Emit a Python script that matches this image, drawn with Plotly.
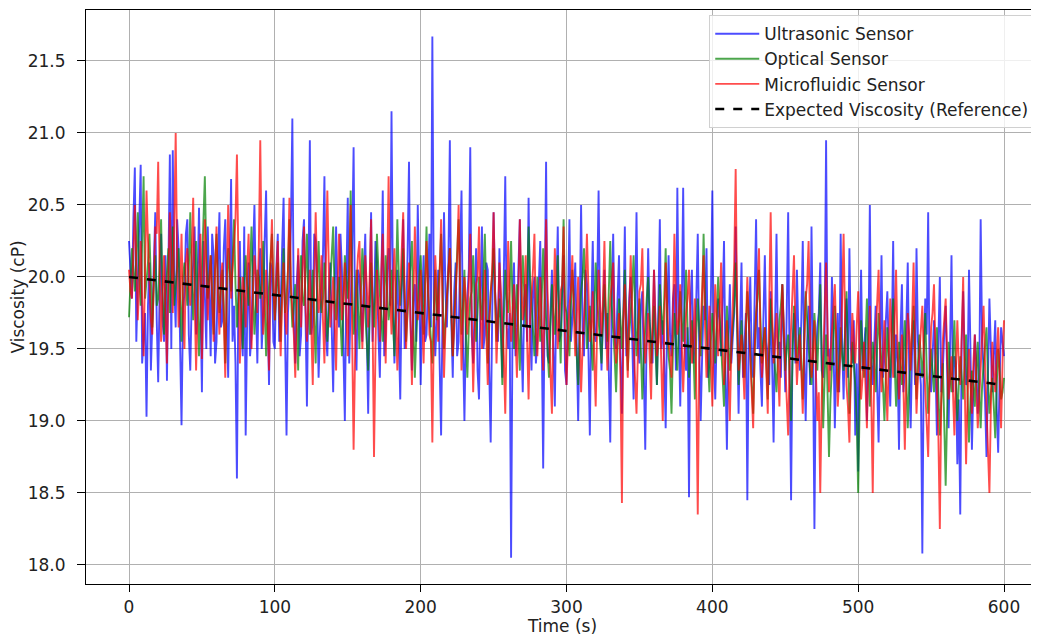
import numpy as np
import plotly.graph_objects as go

# Viscosity readings (cP), one every second from 0 to 600 s
ultrasonic = [
    20.25, 20.05, 19.85, 20.40, 20.76, 19.55, 19.95, 20.30, 20.78, 19.40,
    19.60, 19.75, 19.03, 19.80, 20.10, 19.35, 19.70, 20.15, 20.45, 19.70,
    19.27, 19.90, 20.30, 19.70, 19.55, 20.15, 19.28, 20.05, 20.85, 19.50,
    20.88, 19.95, 19.65, 20.40, 20.20, 19.55, 18.97, 19.75, 19.90, 20.30,
    20.40, 19.60, 19.35, 19.85, 20.05, 20.35, 19.60, 19.95, 20.48, 19.70,
    19.20, 20.25, 19.95, 19.50, 20.35, 19.80, 19.45, 20.30, 20.15, 19.40,
    19.55, 20.10, 20.45, 19.65, 19.70, 20.20, 20.40, 19.75, 19.30, 20.00,
    20.68, 19.55, 19.80, 19.40, 18.60, 19.90, 20.25, 19.65, 19.45, 20.35,
    18.90, 19.70, 20.10, 19.45, 19.60, 20.15, 20.50, 19.85, 19.40, 20.00,
    20.20, 19.50, 19.75, 20.25, 20.60, 19.80, 19.25, 20.10, 20.05, 19.55,
    19.50, 20.05, 20.30, 19.55, 19.80, 20.20, 20.55, 19.60, 18.90, 19.75,
    19.95, 20.35, 21.10, 19.70, 19.40, 19.95, 20.15, 19.45, 19.60, 20.25,
    20.40, 19.75, 19.10, 19.95, 20.95, 19.60, 19.70, 20.30, 20.25, 19.85,
    19.30, 19.65, 19.90, 20.15, 20.70, 19.60, 19.45, 19.90, 20.10, 19.55,
    19.20, 19.90, 20.35, 19.80, 19.65, 20.30, 20.05, 19.50, 19.00, 19.95,
    20.55, 19.40, 19.75, 20.20, 20.90, 19.65, 19.35, 20.05, 20.00, 19.70,
    19.55, 20.00, 20.30, 19.65, 19.05, 19.85, 20.45, 19.55, 19.80, 20.25,
    20.10, 19.60, 19.30, 19.95, 20.60, 19.45, 19.60, 20.05, 20.20, 19.80,
    21.15, 19.85, 19.40, 19.75, 20.05, 19.60, 19.15, 19.90, 20.40, 19.50,
    19.70, 20.15, 20.80, 19.70, 19.35, 19.85, 19.95, 19.55, 20.50, 19.95,
    19.25, 19.80, 20.15, 19.55, 19.60, 19.95, 20.30, 19.65, 21.67, 19.85,
    19.45, 19.70, 20.05, 19.40, 18.90, 19.75, 20.45, 19.90, 19.65, 20.10,
    20.95, 19.70, 19.30, 19.90, 20.10, 19.45, 19.55, 20.15, 20.60, 19.55,
    19.00, 19.65, 19.85, 20.05, 20.90, 19.60, 19.40, 19.85, 20.20, 19.35,
    19.15, 19.85, 20.35, 19.50, 19.60, 20.10, 20.05, 19.35, 18.85, 19.70,
    20.45, 19.90, 19.75, 19.55, 20.20, 19.80, 19.30, 20.00, 20.70, 19.65,
    19.50, 19.75, 18.05, 19.70, 20.10, 19.45, 19.65, 20.05, 20.40, 19.60,
    19.20, 19.85, 19.95, 19.55, 20.55, 19.70, 19.35, 19.90, 20.00, 19.40,
    19.55, 19.95, 20.25, 19.60, 18.67, 19.80, 20.80, 19.45, 19.40, 19.75,
    20.05, 19.50, 19.10, 19.85, 20.35, 19.55, 19.60, 19.90, 20.15, 19.35,
    19.25, 19.80, 20.40, 19.55, 19.70, 19.85, 20.10, 19.40, 19.00, 19.70,
    20.50, 19.65, 19.45, 20.05, 19.95, 19.50, 18.90, 19.75, 20.25, 19.60,
    19.55, 19.90, 20.60, 19.70, 19.35, 19.75, 20.05, 19.50, 19.75, 19.35,
    18.85, 19.80, 20.30, 19.60, 19.50, 19.85, 20.15, 19.45, 19.05, 19.70,
    20.35, 19.45, 19.60, 19.85, 20.00, 19.60, 19.15, 19.75, 20.45, 19.55,
    19.40, 19.80, 19.90, 19.35, 18.80, 19.65, 20.20, 19.70, 19.55, 19.40,
    20.05, 19.60, 19.25, 19.80, 20.40, 19.50, 19.70, 19.40, 18.95, 19.70,
    20.15, 19.60, 19.45, 19.85, 19.95, 19.35, 20.62, 19.65, 19.10, 19.75,
    20.62, 19.55, 19.35, 19.65, 18.47, 19.80, 20.05, 19.40, 19.55, 19.85,
    20.30, 19.50, 19.00, 19.45, 19.80, 19.70, 20.20, 19.30, 19.40, 19.85,
    20.60, 19.45, 19.15, 19.60, 19.85, 19.70, 19.45, 19.80, 20.25, 19.35,
    18.80, 19.55, 19.95, 19.40, 19.60, 19.75, 20.35, 19.50, 19.05, 19.65,
    20.10, 19.30, 19.50, 19.75, 18.45, 19.60, 20.00, 19.45, 19.30, 19.80,
    20.40, 19.50, 19.65, 19.35, 19.10, 19.70, 20.15, 19.55, 19.45, 19.25,
    19.90, 19.40, 18.85, 19.65, 20.30, 19.50, 19.55, 19.30, 19.95, 19.60,
    19.20, 19.75, 20.45, 19.35, 18.45, 19.55, 19.75, 19.40, 20.05, 19.60,
    19.35, 19.70, 20.25, 19.45, 19.00, 19.55, 19.80, 19.25, 20.35, 19.50,
    18.25, 19.40, 19.65, 19.75, 20.10, 19.35, 19.30, 19.60, 20.95, 19.45,
    19.50, 19.35, 20.00, 19.60, 18.95, 19.45, 19.75, 19.20, 20.30, 19.55,
    19.15, 19.65, 19.85, 19.30, 20.20, 19.50, 19.40, 19.70, 18.90, 19.40,
    18.65, 19.55, 20.05, 19.35, 19.50, 19.65, 19.00, 19.50, 20.50, 19.40,
    19.25, 19.60, 19.80, 19.25, 18.85, 19.45, 20.15, 19.30, 19.45, 19.70,
    19.90, 19.45, 19.10, 19.55, 20.25, 19.30, 19.60, 19.40, 18.80, 19.60,
    19.95, 19.20, 19.35, 19.65, 20.10, 19.35, 18.95, 19.50, 19.70, 19.25,
    20.20, 19.55, 19.40, 19.25, 18.08, 19.45, 19.85, 19.60, 20.45, 19.30,
    19.20, 19.50, 19.70, 19.40, 18.90, 19.55, 20.00, 19.20, 19.35, 19.60,
    19.80, 19.35, 18.95, 19.50, 20.15, 19.20, 19.45, 19.40, 18.70, 19.15,
    18.35, 19.55, 19.90, 19.45, 19.25, 19.30, 20.05, 19.50, 18.80, 19.25,
    19.60, 19.40, 19.05, 19.25, 20.40, 19.55, 19.30, 19.15, 18.75, 19.35,
    19.85, 19.50, 19.20, 19.45, 19.70, 19.10, 18.78, 19.30, 19.65, 19.55,
    19.45,
]

optical = [
    19.72, 19.95, 20.20, 20.05, 19.90, 20.15, 20.45, 20.00, 19.80, 20.25,
    20.70, 19.85, 19.95, 20.10, 20.30, 19.90, 19.65, 19.95, 20.15, 19.80,
    19.85, 20.10, 20.40, 19.90, 19.60, 19.85, 20.05, 20.20, 19.75, 20.05,
    20.35, 19.80, 19.95, 20.10, 20.20, 19.85, 19.55, 20.00, 20.10, 19.95,
    19.80, 20.05, 20.45, 20.00, 19.70, 19.95, 20.25, 19.85, 19.45, 19.75,
    20.05, 20.25, 20.70, 20.15, 19.85, 20.00, 20.15, 19.90, 19.60, 20.05,
    20.30, 19.95, 19.75, 19.90, 20.05, 19.80, 19.40, 19.85, 20.20, 20.05,
    19.90, 20.10, 20.40, 19.95, 19.65, 19.85, 20.00, 19.80, 19.50, 19.95,
    20.15, 19.95, 19.80, 20.05, 20.35, 19.90, 19.60, 19.80, 20.05, 20.00,
    19.85, 19.95, 20.25, 19.85, 19.45, 19.75, 19.95, 20.10, 20.30, 19.90,
    19.70, 19.90, 20.10, 19.80, 19.55, 19.95, 20.20, 19.75, 19.85, 20.05,
    20.40, 19.90, 19.65, 19.80, 19.95, 19.70, 19.35, 19.95, 20.15, 19.85,
    19.80, 20.00, 20.30, 19.85, 19.60, 19.80, 20.05, 19.70, 19.40, 19.95,
    20.25, 19.90, 19.75, 19.85, 20.10, 19.80, 19.55, 19.75, 19.95, 20.05,
    20.35, 19.85, 19.70, 19.90, 20.00, 19.70, 19.45, 19.80, 20.15, 20.00,
    19.85, 20.05, 20.60, 19.95, 19.60, 19.75, 20.05, 19.80, 19.50, 19.90,
    20.20, 19.95, 19.75, 19.55, 19.35, 19.75, 20.10, 19.85, 19.65, 19.90,
    20.30, 20.05, 19.90, 19.70, 19.55, 19.85, 20.15, 19.90, 19.70, 19.80,
    20.05, 19.70, 19.45, 19.90, 20.40, 20.00, 19.80, 19.95, 20.20, 19.85,
    19.55, 19.75, 19.95, 20.05, 20.25, 19.65, 19.30, 19.60, 19.85, 20.00,
    20.15, 19.85, 19.60, 19.95, 20.35, 19.90, 19.75, 19.60, 19.40, 19.75,
    20.05, 19.70, 19.85, 20.05, 20.30, 19.85, 19.50, 19.70, 19.90, 20.00,
    20.20, 19.75, 19.45, 19.70, 19.95, 20.10, 20.40, 19.95, 19.60, 19.80,
    20.05, 19.60, 19.30, 19.65, 19.85, 19.90, 20.15, 19.80, 19.55, 19.75,
    20.00, 19.80, 19.70, 20.00, 20.30, 19.85, 19.40, 19.65, 19.90, 20.00,
    20.20, 19.85, 19.55, 19.70, 19.85, 19.60, 19.25, 19.70, 20.05, 19.85,
    19.75, 19.90, 20.25, 19.80, 19.50, 19.75, 19.95, 19.60, 19.35, 19.80,
    20.15, 19.90, 19.65, 19.95, 20.35, 20.00, 19.80, 19.60, 19.45, 19.70,
    20.00, 19.75, 19.55, 19.85, 20.20, 19.90, 19.70, 19.55, 19.30, 19.65,
    19.95, 19.75, 19.60, 19.85, 20.15, 19.70, 19.40, 19.90, 20.40, 19.80,
    19.75, 19.60, 19.45, 19.80, 20.05, 19.85, 19.65, 19.45, 19.25, 19.60,
    19.90, 20.00, 20.20, 19.85, 19.50, 19.65, 19.80, 19.55, 19.35, 19.75,
    20.10, 19.85, 19.70, 19.55, 19.40, 19.70, 19.95, 19.75, 19.55, 19.90,
    20.25, 19.80, 19.65, 19.45, 19.20, 19.60, 19.85, 19.70, 19.50, 19.75,
    20.05, 19.70, 19.35, 19.60, 19.75, 19.90, 20.15, 19.75, 19.45, 19.65,
    19.85, 19.50, 19.15, 19.45, 19.70, 19.85, 20.00, 19.70, 19.40, 19.60,
    19.80, 19.50, 19.25, 19.65, 19.95, 19.75, 19.60, 19.85, 20.20, 19.70,
    19.45, 19.35, 19.05, 19.50, 19.75, 19.55, 19.35, 19.65, 19.90, 19.70,
    19.55, 19.80, 20.05, 19.65, 19.30, 19.45, 19.70, 19.50, 19.15, 19.60,
    19.85, 19.65, 19.45, 19.80, 20.30, 19.85, 19.60, 19.40, 19.20, 19.55,
    19.75, 19.60, 19.40, 19.70, 20.00, 19.75, 19.55, 19.35, 19.10, 19.50,
    19.80, 19.55, 19.35, 19.50, 19.65, 19.80, 20.10, 19.65, 19.25, 19.45,
    19.70, 19.45, 19.30, 19.60, 19.90, 19.70, 19.50, 19.30, 19.05, 19.45,
    19.75, 19.85, 20.05, 19.70, 19.40, 19.55, 19.65, 19.40, 19.15, 19.50,
    19.85, 19.65, 19.45, 19.35, 19.20, 19.50, 19.70, 19.80, 19.95, 19.60,
    19.35, 19.50, 19.60, 19.30, 19.00, 19.45, 19.80, 19.60, 19.40, 19.55,
    19.65, 19.40, 19.15, 19.55, 19.90, 19.70, 19.50, 19.35, 19.25, 19.50,
    19.75, 19.55, 19.35, 19.65, 19.95, 19.45, 18.95, 19.30, 19.60, 19.20,
    18.75, 19.15, 19.45, 19.60, 19.80, 19.50, 19.20, 19.40, 19.65, 19.45,
    19.35, 19.60, 19.90, 19.50, 19.05, 19.30, 19.55, 19.40, 19.25, 19.00,
    18.50, 19.10, 19.70, 19.50, 19.30, 19.55, 19.85, 19.45, 19.10, 19.35,
    19.55, 19.40, 19.20, 19.50, 19.75, 19.55, 19.40, 19.25, 19.00, 19.35,
    19.65, 19.45, 19.30, 19.55, 19.85, 19.40, 19.10, 19.35, 19.55, 19.40,
    19.25, 19.50, 19.70, 19.30, 18.95, 19.25, 19.45, 19.60, 19.80, 19.45,
    19.15, 19.40, 19.60, 19.45, 19.30, 19.50, 19.75, 19.35, 19.05, 19.30,
    19.50, 19.35, 19.20, 19.45, 19.65, 19.20, 18.90, 19.15, 19.40, 19.00,
    18.55, 19.05, 19.55, 19.35, 19.20, 19.45, 19.70, 19.30, 19.00, 19.25,
    19.45, 19.30, 19.15, 19.40, 19.60, 19.20, 18.85, 19.15, 19.35, 19.25,
    19.10, 19.35, 19.55, 19.20, 18.95, 19.25, 19.40, 19.50, 19.65, 19.30,
    19.05, 19.20, 19.30, 19.10, 18.88, 19.25, 19.50, 19.35, 19.15, 19.20,
    19.30,
]

microfluidic = [
    20.05, 19.90, 19.85, 20.20, 20.50, 20.10, 19.70, 19.95, 20.25, 19.85,
    19.45, 20.05, 20.60, 20.25, 19.90, 19.70, 19.60, 20.00, 20.35, 20.30,
    20.80, 20.05, 19.55, 19.90, 20.15, 19.75, 19.40, 20.00, 20.45, 20.15,
    19.75, 20.35, 21.00, 20.10, 19.65, 19.85, 20.30, 19.80, 19.50, 20.10,
    20.20, 19.95, 19.80, 20.15, 20.55, 19.85, 19.35, 19.75, 20.05, 20.30,
    19.43, 19.90, 20.40, 20.05, 19.70, 19.95, 20.15, 19.85, 19.55, 20.05,
    20.35, 19.85, 19.60, 20.00, 20.10, 19.70, 19.30, 19.95, 20.50, 20.10,
    19.85, 20.05, 20.25, 20.40, 20.85, 20.15, 19.40, 19.75, 20.00, 19.90,
    19.65, 20.05, 20.30, 19.85, 19.50, 19.90, 20.15, 20.00, 19.75, 20.20,
    20.95, 20.10, 19.60, 19.80, 20.05, 19.70, 19.35, 20.05, 20.40, 19.95,
    19.70, 20.00, 20.25, 19.80, 19.45, 19.85, 20.10, 19.75, 19.60, 20.05,
    20.55, 19.95, 19.80, 19.60, 19.30, 19.85, 20.20, 19.90, 19.65, 20.05,
    20.35, 19.80, 19.55, 19.85, 20.05, 19.65, 19.25, 19.95, 20.45, 20.00,
    19.75, 19.85, 20.15, 19.70, 19.40, 20.10, 20.60, 20.05, 19.65, 19.80,
    20.00, 19.70, 19.35, 19.90, 20.30, 20.05, 19.70, 19.85, 20.10, 19.75,
    19.45, 20.00, 20.50, 19.60, 18.80, 19.45, 19.95, 20.15, 20.25, 19.85,
    19.50, 19.85, 20.15, 19.95, 19.65, 20.00, 20.40, 19.70, 18.75, 19.50,
    20.05, 19.80, 19.55, 20.05, 20.30, 19.85, 19.40, 20.00, 20.70, 19.90,
    19.60, 19.95, 20.20, 19.75, 19.35, 19.65, 19.95, 20.15, 20.45, 19.90,
    19.50, 19.80, 20.10, 19.70, 19.25, 19.85, 20.35, 19.95, 19.70, 19.80,
    20.05, 19.75, 19.40, 19.85, 20.25, 19.95, 19.60, 19.55, 18.85, 19.60,
    20.15, 19.90, 19.55, 20.00, 20.40, 19.80, 19.30, 19.65, 19.90, 20.05,
    20.20, 19.80, 19.45, 19.65, 19.85, 20.10, 20.50, 19.90, 19.35, 19.70,
    20.00, 19.85, 19.60, 19.95, 20.30, 19.75, 19.20, 19.60, 19.95, 20.00,
    20.35, 19.75, 19.50, 19.80, 20.05, 19.60, 19.25, 19.70, 19.85, 20.05,
    20.45, 19.85, 19.40, 19.70, 20.10, 19.90, 19.65, 19.45, 19.05, 19.60,
    20.25, 19.85, 19.55, 19.75, 19.95, 19.60, 19.30, 19.90, 20.40, 19.95,
    19.70, 19.80, 20.15, 19.55, 19.15, 19.70, 19.85, 20.05, 20.30, 19.65,
    19.45, 19.80, 20.00, 19.65, 19.35, 19.85, 20.40, 19.90, 19.60, 19.40,
    19.05, 19.75, 20.20, 19.85, 19.50, 19.70, 19.90, 19.95, 20.35, 19.60,
    19.25, 19.55, 19.80, 19.90, 20.15, 19.75, 19.45, 19.70, 20.00, 19.60,
    19.20, 19.50, 19.70, 19.95, 20.30, 19.80, 19.55, 19.65, 19.90, 19.45,
    19.10, 19.65, 20.05, 19.80, 19.60, 19.85, 20.25, 19.70, 19.35, 19.55,
    19.85, 19.95, 20.10, 19.60, 19.40, 19.55, 19.75, 19.30, 18.43, 19.70,
    19.95, 19.60, 19.30, 19.75, 20.15, 19.80, 19.55, 19.35, 19.05, 19.50,
    19.90, 19.95, 20.20, 19.65, 19.40, 19.55, 19.75, 19.45, 19.15, 19.70,
    20.05, 19.70, 19.45, 19.55, 19.80, 19.40, 19.00, 19.65, 20.10, 19.80,
    19.55, 19.45, 19.30, 19.75, 20.30, 19.85, 19.60, 19.70, 19.95, 19.55,
    19.20, 19.50, 19.75, 19.85, 20.05, 19.70, 19.40, 19.60, 19.85, 19.25,
    18.35, 19.40, 19.65, 19.80, 20.15, 19.65, 19.30, 19.55, 19.80, 19.45,
    19.10, 19.60, 19.95, 19.70, 19.45, 19.75, 20.10, 19.55, 19.25, 19.45,
    19.70, 19.35, 19.00, 19.50, 19.85, 20.10, 20.75, 19.80, 19.35, 19.45,
    19.60, 19.40, 19.15, 19.65, 20.00, 19.70, 19.45, 19.20, 18.95, 19.50,
    19.80, 19.95, 20.20, 19.55, 19.30, 19.45, 19.65, 19.35, 19.05, 19.80,
    20.45, 19.75, 19.40, 19.55, 19.75, 19.40, 19.10, 19.60, 19.95, 19.65,
    19.35, 19.15, 18.90, 19.40, 19.70, 19.85, 20.15, 19.60, 19.25, 19.45,
    19.60, 19.35, 19.05, 19.50, 19.85, 19.95, 20.25, 19.65, 19.30, 19.45,
    19.70, 19.35, 19.00, 19.20, 18.50, 19.15, 19.55, 19.75, 20.10, 19.60,
    19.20, 19.45, 19.65, 19.80, 19.95, 19.55, 19.10, 19.30, 19.50, 19.85,
    20.30, 19.70, 19.25, 19.10, 18.85, 19.35, 19.75, 19.55, 19.40, 19.65,
    19.90, 19.45, 19.15, 19.30, 19.55, 19.25, 18.95, 19.40, 19.80, 19.15,
    18.50, 19.35, 19.60, 19.75, 20.05, 19.50, 19.20, 19.45, 19.70, 19.30,
    19.00, 19.45, 19.85, 19.55, 19.30, 19.70, 20.05, 19.50, 19.15, 19.40,
    19.60, 19.25, 18.80, 19.35, 19.75, 19.60, 19.35, 19.70, 20.10, 19.50,
    19.05, 19.30, 19.50, 19.65, 19.80, 19.45, 19.20, 19.05, 18.75, 19.25,
    19.65, 19.75, 19.95, 19.50, 19.10, 18.90, 18.25, 19.15, 19.55, 19.70,
    19.85, 19.45, 19.15, 19.30, 19.45, 19.20, 18.90, 19.35, 19.70, 19.40,
    19.25, 19.60, 20.00, 19.30, 18.70, 19.15, 19.50, 19.25, 19.05, 19.40,
    19.60, 19.25, 18.95, 19.15, 19.35, 19.55, 19.80, 19.40, 19.10, 18.85,
    18.50, 19.10, 19.55, 19.35, 19.20, 19.45, 19.65, 19.30, 18.95, 19.40,
    19.70,
]

reference_time = [0, 600]
reference_viscosity = [20.0, 19.25]

x_ticks = [0, 100, 200, 300, 400, 500, 600]
y_ticks = [18.0, 18.5, 19.0, 19.5, 20.0, 20.5, 21.0, 21.5]

time = np.linspace(0, 600, len(ultrasonic))

fig = go.Figure()
series = [
    ("Ultrasonic Sensor", ultrasonic, "rgba(0,0,255,0.7)"),
    ("Optical Sensor", optical, "rgba(0,128,0,0.7)"),
    ("Microfluidic Sensor", microfluidic, "rgba(255,0,0,0.7)"),
]
for name, vals, col in series:
    fig.add_trace(go.Scatter(x=time, y=vals, mode="lines", name=name,
                             line=dict(color=col, width=1.9)))
fig.add_trace(go.Scatter(x=reference_time, y=reference_viscosity, mode="lines",
                         name="Expected Viscosity (Reference)",
                         line=dict(color="black", width=2.6, dash="dash")))

font = dict(family="DejaVu Sans", size=17, color="#222222")
fig.update_layout(
    width=1031, height=629,
    margin=dict(l=78, r=0, t=2, b=53),
    paper_bgcolor="white", plot_bgcolor="white",
    font=font,
    showlegend=True,
    legend=dict(x=0.995, y=0.991, xanchor="right", yanchor="top",
                bgcolor="rgba(255,255,255,0.8)", bordercolor="#d0d0d0",
                borderwidth=1, font=font, tracegroupgap=0, itemwidth=44),
    xaxis=dict(range=[-29.5, 624], tickvals=x_ticks, showgrid=True,
               gridcolor="#b0b0b0", gridwidth=0.8, zeroline=False,
               showline=True, linecolor="black", linewidth=1.2, mirror=True,
               ticks="outside", ticklen=7, tickcolor="black",
               title=dict(text="Time (s)", font=font, standoff=4)),
    yaxis=dict(range=[17.868, 21.854], tickvals=y_ticks, tickformat=".1f",
               showgrid=True, gridcolor="#b0b0b0", gridwidth=0.8,
               zeroline=False, showline=True, linecolor="black",
               linewidth=1.2, mirror=False, ticks="outside", ticklen=8,
               tickcolor="black", ticklabelstandoff=8,
               title=dict(text="Viscosity (cP)", font=font, standoff=8)),
)

fig.write_html("out.html")
